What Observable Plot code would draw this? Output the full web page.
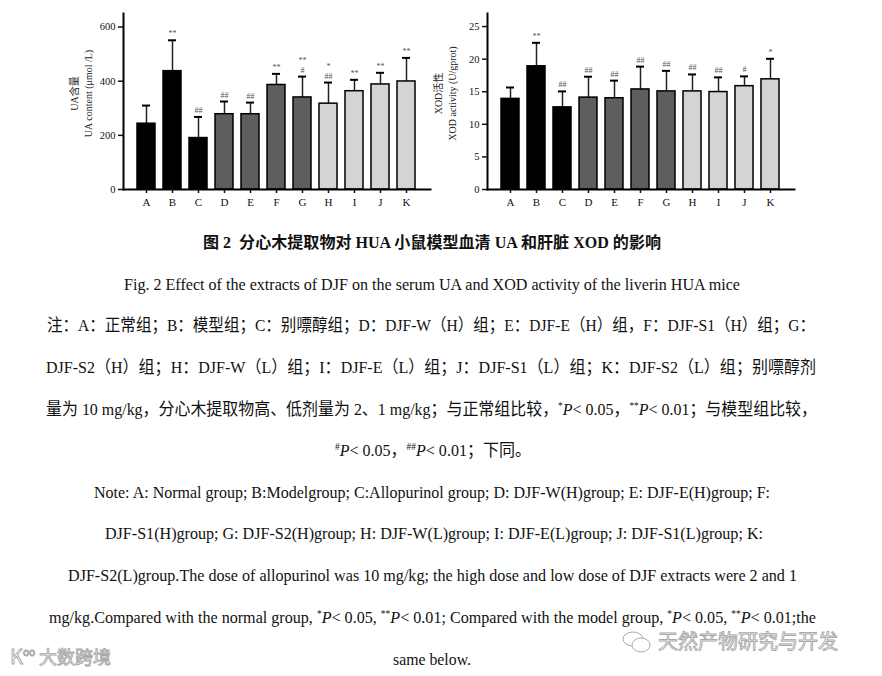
<!DOCTYPE html>
<html><head><meta charset="utf-8">
<script src="https://cdn.jsdelivr.net/npm/d3@7"></script>
<script src="https://cdn.jsdelivr.net/npm/@observablehq/plot@0.6"></script>
<style>
html,body{margin:0;padding:0;background:#fff;}
#page{position:relative;width:882px;height:676px;overflow:hidden;background:#fff;font-family:"Liberation Serif","Noto Sans CJK SC",serif;color:#111;}
.chart{position:absolute;top:0;}
.line{position:absolute;white-space:nowrap;font-size:17px;line-height:17px;height:17px;transform-origin:0 50%;}
.line .sp{font-size:10px;vertical-align:0.6em;line-height:0;}
.title{font-weight:bold;font-size:16px;}
.wm{position:absolute;white-space:nowrap;font-family:"Noto Sans CJK SC",sans-serif;color:rgba(255,255,255,0.9);-webkit-text-stroke:0.9px #a8a8a8;line-height:1;}
</style></head><body><div id="page"></div>
<script>
// ---- data ----
const groups = ["A","B","C","D","E","F","G","H","I","J","K"];
const tones = ["t1","t1","t1","t2","t2","t2","t2","t3","t3","t3","t3"];
const toneNames = ["t1","t2","t3"];
const toneColors = ["#000000","#5e5e5e","#d4d4d4"];
const uaMean  = [243, 437, 190, 278, 278, 386, 340, 317, 363, 388, 399];
const uaUpper = [310, 551, 268, 325, 321, 427, 417, 395, 405, 431, 486];
const uaSig   = ["", "**", "##", "##", "##", "**", "**\n#", "*\n##", "**", "**", "**"];
const uaTicks = [0, 200, 400, 600];
const uaLabel = "UA含量\nUA content (μmol /L)";
const xodMean  = [13.9, 18.9, 12.6, 14.1, 14.0, 15.35, 15.05, 15.05, 14.95, 15.85, 16.9];
const xodUpper = [15.65, 22.5, 15.05, 17.3, 16.7, 18.85, 18.2, 17.65, 17.2, 17.35, 20.05];
const xodSig   = ["", "**", "##", "##", "##", "##", "##", "##", "##", "#", "*"];
const xodTicks = [0, 5, 10, 15, 20, 25];
const xodLabel = "XOD活性\nXOD activity (U/gprot)";

const captionLines = [
  {cls:"title", x0:203, x1:661, y:242, html:"图 2&nbsp; 分心木提取物对 HUA 小鼠模型血清 UA 和肝脏 XOD 的影响"},
  {x0:124, x1:740, y:284, html:"Fig. 2 Effect of the extracts of DJF on the serum UA and XOD activity of the liverin HUA mice"},
  {x0:47, x1:815, y:325, html:"注：A：正常组；B：模型组；C：别嘌醇组；D：DJF-W（H）组；E：DJF-E（H）组，F：DJF-S1（H）组；G："},
  {x0:46, x1:816, y:367, html:"DJF-S2（H）组；H：DJF-W（L）组；I：DJF-E（L）组；J：DJF-S1（L）组；K：DJF-S2（L）组；别嘌醇剂"},
  {x0:46, x1:817, y:409, html:"量为 10 mg/kg，分心木提取物高、低剂量为 2、1 mg/kg；与正常组比较，<span class='sp'>*</span><i>P</i>&lt; 0.05，<span class='sp'>**</span><i>P</i>&lt; 0.01；与模型组比较，"},
  {x0:335, x1:531, y:450, html:"<span class='sp'>#</span><i>P</i>&lt; 0.05，<span class='sp'>##</span><i>P</i>&lt; 0.01；下同。"},
  {x0:94, x1:770, y:492, html:"Note: A: Normal group; B:Modelgroup; C:Allopurinol group; D: DJF-W(H)group; E: DJF-E(H)group; F:"},
  {x0:105, x1:763, y:533, html:"DJF-S1(H)group; G: DJF-S2(H)group; H: DJF-W(L)group; I: DJF-E(L)group; J: DJF-S1(L)group; K:"},
  {x0:68, x1:797, y:575, html:"DJF-S2(L)group.The dose of allopurinol was 10 mg/kg; the high dose and low dose of DJF extracts were 2 and 1"},
  {x0:49, x1:816, y:617, html:"mg/kg.Compared with the normal group, <span class='sp'>*</span><i>P</i>&lt; 0.05, <span class='sp'>**</span><i>P</i>&lt; 0.01; Compared with the model group, <span class='sp'>*</span><i>P</i>&lt; 0.05, <span class='sp'>**</span><i>P</i>&lt; 0.01;the"},
  {x0:393, x1:471, y:659, html:"same below."}
];

const page = document.getElementById("page");

function chart(means, uppers, sig, yMax, ticks, label, left) {
  const data = groups.map((g, i) => ({g, mean: means[i], upper: uppers[i], sig: sig[i], tone: tones[i]}));
  const svg = Plot.plot({
    width: 440, height: 215,
    marginLeft: 123, marginRight: 10, marginTop: 13, marginBottom: 26,
    x: {domain: groups, paddingInner: 0.294, paddingOuter: 0.353, label: null},
    y: {domain: [0, yMax], label: null},
    color: {domain: toneNames, range: toneColors},
    style: {fontFamily: "'Liberation Serif','Noto Sans CJK SC',serif", fontSize: "10px", background: "transparent", overflow: "visible", color: "#111"},
    marks: [
      Plot.ruleX(data, {x: "g", y1: "mean", y2: "upper", stroke: "#222", strokeWidth: 1.5}),
      Plot.barY(data, {x: "g", y: "mean", fill: "tone", stroke: "#000", strokeWidth: 1.5}),
      Plot.tickY(data, {x: "g", y: "upper", stroke: "#000", strokeWidth: 2, insetLeft: 5, insetRight: 5}),
      Plot.text(data, {x: "g", y: "upper", text: "sig", dy: -4, lineAnchor: "bottom", fontSize: 8, fill: "#555", lineHeight: 1.15}),
      Plot.frame({anchor: "left", strokeWidth: 2, stroke: "#000"}),
      Plot.frame({anchor: "bottom", strokeWidth: 2, stroke: "#000"}),
      Plot.axisY({ticks, tickSize: 5, tickPadding: 3, strokeWidth: 1.5, fontSize: 10.5, label: null}),
      Plot.axisX({tickSize: 4, tickPadding: 5, strokeWidth: 1.5, fontSize: 11, label: null}),
      Plot.text([label], {text: d => d, frameAnchor: "left", rotate: -90, dx: -43, dy: -8, textAnchor: "middle", lineAnchor: "middle", fontSize: 10, lineHeight: 1.35, fill: "#222"})
    ]
  });
  svg.classList.add("chart");
  svg.style.left = left + "px";
  page.appendChild(svg);
}

chart(uaMean, uaUpper, uaSig, 650, uaTicks, uaLabel, 0);
chart(xodMean, xodUpper, xodSig, 27, xodTicks, xodLabel, 364);

for (const c of captionLines) {
  const d = document.createElement("div");
  d.className = "line" + (c.cls ? " " + c.cls : "");
  d.innerHTML = c.html;
  d.style.left = c.x0 + "px";
  d.style.top = (c.y - 8.5) + "px";
  page.appendChild(d);
  const w = d.getBoundingClientRect().width;
  d.style.transform = `scaleX(${(c.x1 - c.x0) / w})`;
}

// watermarks
const wm1 = document.createElement("div");
wm1.className = "wm";
wm1.style.left = "10px"; wm1.style.top = "646px"; wm1.style.fontSize = "18px";
wm1.innerHTML = "<span style='font-size:20px'>K</span><span style='font-size:10px;vertical-align:0.8em'>oo</span> 大数跨境";
page.appendChild(wm1);
const wm2 = document.createElement("div");
wm2.className = "wm";
wm2.style.left = "622px"; wm2.style.top = "631px"; wm2.style.fontSize = "20px";
wm2.innerHTML = "<svg width='30' height='22' style='vertical-align:-4px;margin-right:6px' viewBox='0 0 30 22'><ellipse cx='11' cy='8' rx='10' ry='7' fill='none' stroke='#aaa' stroke-width='1'/><ellipse cx='19' cy='14' rx='9' ry='7' fill='#fff' stroke='#aaa' stroke-width='1'/></svg>天然产物研究与开发";
page.appendChild(wm2);
</script>
</body></html>
